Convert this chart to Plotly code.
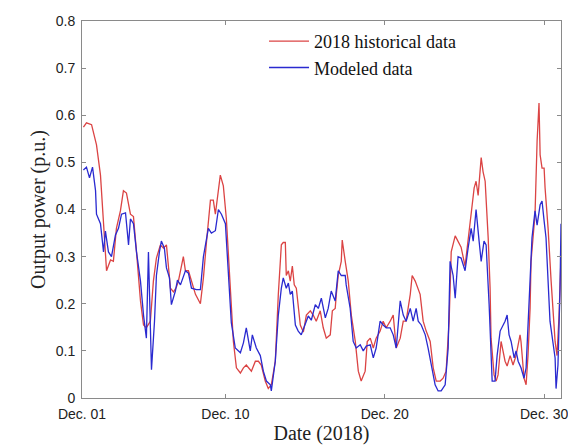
import plotly.graph_objects as go

# Days elapsed since Dec. 01 00:00 (2018), and output power (p.u.)
hist_day = [0.09, 0.28, 0.60, 0.91, 1.16, 1.29, 1.41, 1.54, 1.79, 1.97, 2.16, 2.41, 2.60, 2.79, 3.04, 3.23,
            3.42, 3.67, 3.86, 4.04, 4.29, 4.48, 4.67, 4.92, 5.11, 5.30, 5.55, 5.74, 5.92, 6.05, 6.36, 6.49,
            6.68, 6.87, 7.12, 7.43, 7.62, 7.81, 8.06, 8.24, 8.37, 8.68, 8.87, 9.06, 9.31, 9.50, 9.69, 9.94,
            10.13, 10.31, 10.63, 10.88, 11.07, 11.25, 11.50, 11.69, 11.88, 12.13, 12.32, 12.51, 12.63, 12.76,
            12.82, 12.95, 13.07, 13.20, 13.32, 13.45, 13.70, 13.89, 14.08, 14.33, 14.51, 14.70, 14.95, 15.14,
            15.33, 15.58, 15.71, 15.89, 15.96, 16.08, 16.27, 16.33, 16.52, 16.71, 16.90, 17.15, 17.34, 17.52,
            17.77, 17.90, 18.09, 18.28, 18.46, 18.71, 18.90, 19.09, 19.34, 19.53, 19.72, 19.97, 20.16, 20.34,
            20.60, 20.72, 20.91, 21.10, 21.22, 21.41, 21.60, 21.85, 22.04, 22.23, 22.48, 22.66, 22.85, 23.04,
            23.17, 23.42, 23.60, 23.79, 24.04, 24.23, 24.42, 24.61, 24.73, 24.86, 25.05, 25.17, 25.30, 25.49,
            25.61, 25.67, 25.86, 25.99, 26.11, 26.24, 26.30, 26.55, 26.68, 26.87, 27.05, 27.24, 27.49, 27.55,
            27.74, 27.87, 27.99, 28.12, 28.18, 28.43, 28.56, 28.68, 28.75, 28.87, 29.00, 29.06, 29.25, 29.44,
            29.69, 29.81, 29.94, 30.06]
hist_val = [0.575, 0.584, 0.58, 0.537, 0.473, 0.40, 0.333, 0.27, 0.293, 0.29, 0.36, 0.397, 0.44, 0.435, 0.39, 0.385,
            0.31, 0.206, 0.155, 0.149, 0.163, 0.248, 0.297, 0.325, 0.318, 0.325, 0.233, 0.225, 0.235, 0.248, 0.30, 0.27,
            0.27, 0.248, 0.22, 0.20, 0.255, 0.33, 0.42, 0.42, 0.39, 0.473, 0.45, 0.38, 0.22, 0.12, 0.064, 0.053,
            0.064, 0.07, 0.057, 0.078, 0.078, 0.07, 0.036, 0.02, 0.028, 0.078, 0.22, 0.325, 0.33, 0.33,
            0.26, 0.27, 0.248, 0.28, 0.24, 0.233, 0.155, 0.14, 0.176, 0.185, 0.176, 0.163, 0.185, 0.149,
            0.127, 0.134, 0.185, 0.19, 0.22, 0.26, 0.29, 0.335, 0.29, 0.248, 0.176, 0.12, 0.057, 0.036,
            0.057, 0.12, 0.127, 0.106, 0.127, 0.142, 0.163, 0.149, 0.163, 0.176, 0.106, 0.127, 0.163, 0.163,
            0.22, 0.26, 0.248, 0.233, 0.22, 0.163, 0.142, 0.12, 0.064, 0.036, 0.036, 0.042, 0.057, 0.163,
            0.31, 0.344, 0.333, 0.32, 0.28, 0.333, 0.39, 0.446, 0.46, 0.43, 0.51, 0.48, 0.46, 0.34,
            0.233, 0.127, 0.049, 0.036, 0.049, 0.09, 0.12, 0.078, 0.068, 0.09, 0.07, 0.09, 0.134, 0.12,
            0.042, 0.028, 0.09, 0.19, 0.29, 0.39, 0.545, 0.626, 0.516, 0.488, 0.488, 0.446, 0.36, 0.248,
            0.12, 0.09, 0.176, 0.30]

model_day = [0.09, 0.28, 0.47, 0.66, 0.85, 0.91, 1.16, 1.35, 1.47, 1.66, 1.85, 2.10, 2.29, 2.48, 2.73, 2.92,
             3.04, 3.23, 3.42, 3.67, 3.86, 4.04, 4.17, 4.29, 4.36, 4.55, 4.67, 4.86, 4.98, 5.17, 5.30, 5.49,
             5.61, 5.86, 5.99, 6.18, 6.49, 6.68, 6.87, 7.18, 7.43, 7.62, 7.81, 7.93, 8.12, 8.37, 8.56, 8.75,
             9.00, 9.18, 9.37, 9.62, 9.94, 10.13, 10.31, 10.56, 10.69, 10.94, 11.19, 11.38, 11.57, 11.82, 11.88,
             12.13, 12.32, 12.51, 12.63, 12.82, 12.95, 13.07, 13.20, 13.39, 13.57, 13.76, 14.01, 14.20, 14.39,
             14.64, 14.83, 15.02, 15.27, 15.45, 15.64, 15.89, 16.08, 16.27, 16.52, 16.58, 16.83, 17.02, 17.21,
             17.46, 17.65, 17.84, 18.09, 18.28, 18.46, 18.71, 18.90, 19.09, 19.34, 19.53, 19.72, 19.97, 20.16,
             20.34, 20.60, 20.78, 20.97, 21.10, 21.29, 21.54, 21.72, 21.91, 22.16, 22.35, 22.54, 22.79, 22.98,
             23.10, 23.29, 23.42, 23.60, 23.79, 24.04, 24.23, 24.42, 24.55, 24.73, 24.92, 25.05, 25.23, 25.36,
             25.55, 25.67, 25.74, 25.92, 26.05, 26.24, 26.36, 26.55, 26.68, 26.80, 26.93, 27.12, 27.24, 27.37,
             27.55, 27.74, 27.87, 27.99, 28.12, 28.24, 28.43, 28.56, 28.75, 28.87, 29.00, 29.12, 29.37, 29.50,
             29.69, 29.75, 29.87, 30.00, 30.06]
model_val = [0.484, 0.49, 0.467, 0.49, 0.44, 0.39, 0.37, 0.31, 0.354, 0.31, 0.30, 0.346, 0.36, 0.39, 0.393, 0.325,
             0.38, 0.37, 0.31, 0.248, 0.176, 0.127, 0.31, 0.163, 0.06, 0.163, 0.26, 0.31, 0.333, 0.318, 0.276, 0.255,
             0.198, 0.227, 0.25, 0.24, 0.27, 0.265, 0.233, 0.23, 0.23, 0.30, 0.34, 0.36, 0.35, 0.355, 0.40, 0.39,
             0.37, 0.26, 0.16, 0.106, 0.096, 0.117, 0.149, 0.10, 0.134, 0.106, 0.09, 0.057, 0.036, 0.028, 0.015,
             0.078, 0.176, 0.233, 0.255, 0.233, 0.244, 0.22, 0.227, 0.155, 0.142, 0.134, 0.155, 0.174, 0.165,
             0.198, 0.19, 0.212, 0.17, 0.19, 0.227, 0.206, 0.27, 0.26, 0.26, 0.24, 0.19, 0.12, 0.106,
             0.113, 0.10, 0.11, 0.113, 0.085, 0.106, 0.163, 0.155, 0.149, 0.149, 0.134, 0.106, 0.206, 0.176,
             0.163, 0.19, 0.163, 0.19, 0.163, 0.155, 0.134, 0.106, 0.07, 0.028, 0.015, 0.015, 0.028, 0.106,
             0.29, 0.26, 0.212, 0.30, 0.297, 0.27, 0.318, 0.36, 0.333, 0.40, 0.333, 0.29, 0.333, 0.325,
             0.198, 0.09, 0.036, 0.036, 0.09, 0.142, 0.149, 0.163, 0.176, 0.134, 0.12, 0.085, 0.10, 0.078,
             0.064, 0.042, 0.064, 0.163, 0.233, 0.34, 0.397, 0.367, 0.41, 0.418, 0.376, 0.34, 0.163, 0.134,
             0.085, 0.02, 0.07, 0.233, 0.37]

tick_days = [0, 9, 19, 29]
tick_labels = ["Dec. 01", "Dec. 10", "Dec. 20", "Dec. 30"]
y_ticks = [0, 0.1, 0.2, 0.3, 0.4, 0.5, 0.6, 0.7, 0.8]
y_labels = ["0", "0.1", "0.2", "0.3", "0.4", "0.5", "0.6", "0.7", "0.8"]

serif = "Liberation Serif, Times New Roman, serif"
sans = "Liberation Sans, Arial, sans-serif"

fig = go.Figure()
fig.add_trace(go.Scatter(x=hist_day, y=hist_val, mode="lines", name="2018 historical data",
                         line=dict(color="#db4444", width=1.3)))
fig.add_trace(go.Scatter(x=model_day, y=model_val, mode="lines", name="Modeled data",
                         line=dict(color="#2a2ad0", width=1.3)))

axis_common = dict(showline=True, linecolor="#8a8a8a", linewidth=1, mirror="ticks", ticks="inside",
                   ticklen=4, tickcolor="#8a8a8a", showgrid=False, zeroline=False, automargin=False,
                   tickfont=dict(family=sans, size=14, color="#222"))
fig.update_xaxes(range=[0, 30.06], tickvals=tick_days, ticktext=tick_labels, ticklabelstandoff=3,
                 title=dict(text="Date (2018)", font=dict(family=serif, size=20, color="#222"), standoff=2),
                 **axis_common)
fig.update_yaxes(range=[0, 0.8], tickvals=y_ticks, ticktext=y_labels, ticklabelstandoff=3,
                 title=dict(text="Output power (p.u.)", font=dict(family=serif, size=20, color="#222"), standoff=4),
                 **axis_common)
fig.update_layout(
    template="none",
    width=576, height=446,
    margin=dict(l=74, r=23, t=13, b=56),
    paper_bgcolor="white", plot_bgcolor="white",
    showlegend=True,
    legend=dict(x=0.38, y=0.995, xanchor="left", yanchor="top", bgcolor="rgba(0,0,0,0)",
                font=dict(family=serif, size=18, color="#111"), itemwidth=40, tracegroupgap=0),
)
fig.write_html("out.html")
